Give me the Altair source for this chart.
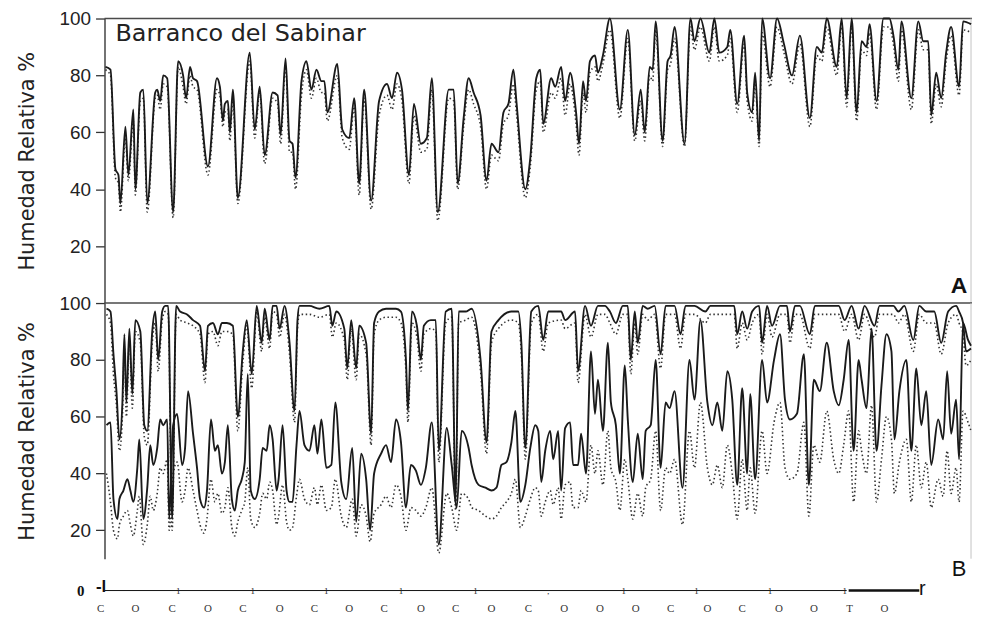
import altair as alt
import pandas as pd

# ---------------- datos (dia = posicion temporal, hr = humedad relativa %) -------------
DIA_A = [0.5, 3, 5.5, 7, 8, 10.5, 12, 14.5, 15.5, 18,
         19.5, 21.5, 25.5, 26.5, 28, 29.5, 31.5, 34.5, 37, 39.5,
         41, 43, 44.5, 46.5, 52, 56.5, 58, 59.5, 60.5, 62,
         63, 64.5, 67, 73, 75.5, 78, 80.5, 84.5, 87, 88.5,
         91, 93, 94.5, 96, 99, 101.5, 104, 106.5, 109, 110.5,
         112, 117, 119.5, 123, 125.5, 128, 130.5, 134, 138, 142,
         144.5, 147, 149.5, 153, 155.5, 159, 162, 164.5, 167.5, 173,
         175.5, 177.5, 180.5, 183, 185.5, 189, 192, 194.5, 198, 200.5,
         203, 205.5, 207, 211.5, 214, 217, 219, 220.5, 224.5, 226.5,
         229.5, 231.5, 234, 237, 238.5, 240.5, 242, 244, 246.5, 248,
         250.5, 254, 259, 263, 266.5, 269.5, 271.5, 274, 275.5, 277,
         280.5, 283, 284.5, 286.5, 291.5, 294.5, 296.5, 299.5, 304, 306.5,
         309, 313, 314.5, 318, 321.5, 323, 325.5, 327, 329, 330.5,
         334.5, 338, 341.5, 345.5, 349.5, 354.5, 358, 360.5, 363, 368,
         370.5, 373, 375.5, 378, 380.5, 383, 384.5, 388, 391.5, 394.5,
         396.5, 399, 400.5, 405.5, 409, 411.5, 414, 415.5, 418, 420.5,
         423, 425.5, 429.5, 431.5, 435.5]
HR_A_SOLIDA = [83, 82, 47, 45, 35, 62, 45, 68, 40, 74,
               75, 35, 74, 75, 71, 80, 79, 32, 85, 80,
               72, 83, 79, 78, 48, 79, 76, 64, 70, 71,
               60, 75, 37, 88, 61, 76, 52, 74, 73, 59,
               86, 57, 56, 44, 78, 85, 75, 82, 78, 78,
               67, 84, 61, 58, 72, 42, 75, 36, 71, 77,
               72, 81, 75, 45, 70, 56, 58, 79, 32, 75,
               75, 42, 65, 79, 74, 66, 43, 56, 53, 67,
               70, 82, 71, 40, 51, 79, 82, 63, 79, 76,
               83, 71, 81, 67, 56, 78, 71, 85, 87, 81,
               87, 100, 68, 96, 59, 75, 60, 83, 82, 99,
               57, 85, 87, 97, 56, 100, 92, 100, 88, 100,
               88, 90, 96, 70, 94, 74, 67, 81, 57, 100,
               79, 100, 91, 80, 94, 65, 90, 88, 100, 83,
               100, 72, 100, 67, 92, 90, 98, 71, 100, 100,
               94, 82, 99, 72, 99, 92, 92, 66, 81, 72,
               88, 97, 76, 99, 98]
HR_A_PUNTOS = [82, 80, 44, 42, 32, 58, 43, 64, 38, 71,
               72, 32, 72, 73, 68, 77, 76, 30, 83, 76,
               70, 80, 76, 75, 45, 75, 73, 62, 67, 68,
               57, 72, 35, 85, 58, 74, 49, 72, 70, 56,
               83, 53, 53, 40, 73, 82, 72, 79, 74, 74,
               64, 80, 58, 54, 69, 38, 72, 33, 66, 73,
               68, 77, 71, 42, 66, 53, 54, 75, 29, 72,
               71, 40, 62, 75, 70, 62, 40, 52, 50, 63,
               66, 77, 67, 37, 48, 75, 78, 60, 74, 72,
               79, 66, 77, 63, 52, 74, 67, 81, 83, 78,
               84, 96, 65, 93, 57, 71, 57, 80, 78, 96,
               55, 82, 84, 93, 55, 97, 89, 97, 85, 97,
               85, 87, 93, 67, 91, 71, 64, 78, 55, 95,
               76, 97, 88, 77, 91, 62, 87, 85, 97, 80,
               97, 69, 97, 64, 89, 87, 95, 68, 97, 97,
               91, 78, 96, 68, 96, 89, 89, 63, 77, 69,
               85, 94, 73, 96, 95]

DIA_B_SUP = [1, 3, 4.5, 6, 7.5, 9, 10, 11, 12.5, 14,
             15.5, 18, 20, 21.5, 24, 25.5, 27, 29, 30.5, 32,
             34, 36, 38, 41.5, 44.5, 48, 50.5, 52, 54.5, 57,
             59, 61.5, 64.5, 67, 69.5, 71.5, 74, 76.5, 79, 80.5,
             83, 84.5, 86.5, 88, 90.5, 93, 95.5, 97, 98, 103,
             108, 113, 114.5, 116.5, 120.5, 122, 124, 126.5, 128, 131.5,
             134, 135.5, 138, 141.5, 146.5, 149, 151.5, 152.5, 154.5, 157,
             159, 160.5, 164, 166.5, 168, 171.5, 174.5, 176.5, 178, 181.5,
             184.5, 189, 192, 194.5, 198, 204.5, 208, 209.5, 211.5, 214.5,
             218, 220.5, 223, 229.5, 231.5, 236.5, 238, 241.5, 244.5, 248,
             251.5, 254, 257, 260.5, 263, 264.5, 266.5, 268, 270.5, 273,
             276.5, 279.5, 282, 286.5, 289.5, 292, 296.5, 302, 304.5, 309.5,
             316.5, 318, 320.5, 323, 325.5, 329, 330.5, 333, 335.5, 339.5,
             343, 344.5, 347, 349.5, 354.5, 357, 363, 369, 372, 375.5,
             379, 382, 387, 389.5, 393, 396.5, 399, 402, 406.5, 409.5,
             413, 417, 420.5, 424, 428, 429.5, 431.5, 433, 435.5]
HR_B_SUP_SOLIDA = [98, 97, 82, 69, 52, 65, 89, 65, 91, 68,
                   94, 90, 57, 55, 90, 97, 80, 97, 99, 99,
                   24, 99, 97, 96, 94, 92, 76, 92, 93, 89,
                   93, 93, 92, 60, 83, 94, 75, 99, 86, 98,
                   87, 99, 99, 91, 99, 86, 62, 94, 99, 99,
                   98, 99, 92, 97, 91, 77, 94, 77, 92, 86,
                   54, 93, 97, 98, 98, 97, 80, 62, 97, 92,
                   80, 92, 94, 94, 48, 97, 98, 30, 97, 97,
                   98, 80, 51, 90, 94, 97, 97, 86, 49, 97,
                   99, 87, 97, 97, 94, 97, 76, 99, 92, 99,
                   99, 97, 93, 99, 99, 80, 97, 86, 99, 98,
                   99, 82, 99, 99, 89, 99, 99, 97, 99, 99,
                   99, 89, 97, 91, 97, 99, 86, 99, 92, 99,
                   99, 90, 99, 99, 89, 99, 99, 99, 94, 99,
                   91, 99, 92, 99, 99, 99, 97, 99, 87, 99,
                   97, 97, 86, 97, 99, 97, 93, 83, 84]
HR_B_SUP_PUNTOS = [96, 93, 75, 64, 48, 60, 84, 60, 87, 63,
                   90, 86, 53, 50, 86, 93, 76, 94, 97, 96,
                   20, 96, 94, 93, 92, 89, 72, 89, 90, 85,
                   90, 90, 89, 55, 79, 92, 70, 97, 83, 95,
                   84, 97, 96, 88, 96, 82, 58, 91, 96, 96,
                   95, 96, 88, 93, 87, 73, 91, 73, 89, 82,
                   50, 89, 94, 95, 95, 93, 76, 58, 93, 88,
                   76, 89, 91, 90, 44, 93, 95, 27, 93, 94,
                   95, 76, 47, 86, 91, 94, 93, 82, 45, 93,
                   96, 83, 93, 94, 91, 93, 72, 96, 88, 96,
                   96, 93, 89, 96, 96, 75, 93, 82, 96, 94,
                   96, 77, 96, 96, 84, 96, 96, 93, 96, 96,
                   96, 84, 93, 87, 93, 96, 82, 96, 88, 96,
                   96, 86, 96, 96, 84, 96, 96, 96, 90, 96,
                   87, 96, 88, 96, 96, 96, 93, 96, 83, 96,
                   93, 93, 82, 93, 96, 93, 89, 78, 80]

DIA_B_INF = [1, 3, 4.5, 6.5, 7.5, 9.5, 11.5, 13, 14.5, 16.5,
             17.5, 19.5, 21.5, 23, 24.5, 26.5, 28, 29.5, 31.5, 32.5,
             34.5, 36.5, 39, 40.5, 42, 44.5, 46.5, 48, 50, 51.5,
             53.5, 55.5, 57, 59, 60.5, 62, 64, 65.5, 67, 69,
             70.5, 72, 73.5, 75.5, 78, 79.5, 81.5, 83, 84.5, 86.5,
             87.5, 89.5, 91.5, 93, 94.5, 96.5, 98, 100.5, 103, 105.5,
             107, 109, 111.5, 114, 116, 119, 121.5, 124.5, 126.5, 129,
             131.5, 133.5, 135.5, 139, 141.5, 144, 146.5, 149, 151.5, 154,
             156.5, 159, 161.5, 164.5, 168, 172, 174.5, 177, 179.5, 183,
             184.5, 188, 191.5, 194.5, 197, 199.5, 202, 204.5, 206.5, 209,
             211.5, 214, 216.5, 218, 219.5, 221.5, 224, 225.5, 228, 229.5,
             231.5, 234, 235.5, 238, 239.5, 242, 244.5, 246.5, 248, 250.5,
             253, 254.5, 257, 259, 261.5, 263, 265.5, 268, 270.5, 272,
             274.5, 277, 279.5, 282, 284, 286.5, 290.5, 294, 296.5, 299.5,
             303, 305.5, 308, 310.5, 313, 315.5, 318, 320.5, 323, 324.5,
             327, 330.5, 333, 336.5, 339.5, 342, 344.5, 348, 351.5, 354,
             356.5, 359.5, 363, 366.5, 369, 371.5, 374, 376.5, 379, 380.5,
             383, 385.5, 388, 390.5, 393, 395.5, 397, 399.5, 403, 405.5,
             408, 410.5, 413, 415.5, 419, 421.5, 423.5, 425.5, 428, 429.5,
             431.5, 434, 435.5]
HR_B_INF_SOLIDA = [57, 58, 31, 24, 31, 34, 38, 34, 30, 42,
                   52, 24, 35, 50, 43, 49, 59, 57, 59, 24,
                   57, 61, 43, 49, 69, 54, 42, 31, 28, 34,
                   59, 48, 50, 40, 44, 57, 31, 27, 34, 38,
                   44, 75, 34, 31, 38, 49, 48, 57, 52, 34,
                   38, 57, 34, 30, 30, 50, 62, 50, 48, 57,
                   47, 59, 42, 43, 65, 37, 31, 49, 23, 47,
                   38, 20, 40, 47, 50, 44, 59, 51, 28, 43,
                   41, 36, 42, 58, 15, 56, 43, 28, 55, 49,
                   43, 36, 35, 34, 35, 43, 44, 51, 62, 30,
                   36, 49, 57, 55, 37, 48, 55, 45, 55, 34,
                   56, 58, 43, 43, 54, 40, 83, 61, 73, 55,
                   86, 65, 57, 40, 78, 59, 37, 54, 38, 55,
                   57, 80, 42, 65, 63, 69, 35, 80, 66, 94,
                   65, 57, 65, 55, 76, 66, 36, 70, 40, 68,
                   38, 80, 65, 80, 89, 66, 59, 61, 82, 36,
                   73, 69, 86, 69, 64, 73, 87, 48, 80, 73,
                   63, 91, 48, 71, 89, 83, 52, 69, 80, 48,
                   77, 57, 69, 43, 59, 52, 76, 54, 66, 45,
                   93, 87, 85]
HR_B_INF_PUNTOS = [40, 30, 20, 17, 22, 25, 27, 22, 18, 27,
                   32, 15, 22, 32, 27, 33, 42, 40, 45, 20,
                   40, 44, 30, 34, 42, 34, 27, 22, 19, 24,
                   38, 30, 33, 26, 28, 35, 21, 18, 23, 27,
                   30, 42, 24, 21, 26, 33, 31, 37, 34, 22,
                   25, 36, 23, 20, 21, 32, 38, 31, 29, 35,
                   29, 36, 27, 28, 38, 25, 21, 31, 18, 29,
                   25, 16, 26, 29, 32, 28, 36, 32, 20, 28,
                   27, 25, 28, 35, 12, 33, 28, 20, 33, 31,
                   28, 27, 25, 24, 25, 28, 30, 33, 38, 21,
                   25, 31, 35, 34, 25, 30, 34, 29, 35, 24,
                   36, 37, 28, 28, 34, 30, 50, 40, 48, 36,
                   55, 42, 37, 27, 45, 38, 24, 33, 25, 35,
                   38, 55, 27, 42, 40, 45, 22, 55, 42, 65,
                   42, 36, 43, 35, 50, 40, 24, 45, 27, 42,
                   26, 55, 40, 58, 65, 42, 38, 40, 58, 25,
                   50, 44, 62, 45, 40, 50, 62, 30, 55, 48,
                   40, 64, 30, 45, 60, 52, 33, 44, 52, 30,
                   50, 35, 44, 28, 38, 32, 48, 33, 42, 30,
                   62, 58, 55]

# eje temporal inferior (tal como aparece en la figura)
LETRAS = ["C", "O", "C", "O", "C", "O", "C", "O", "C", "O", "C", "O",
          "C", "O", "O", "O", "C", "O", "C", "O", "O", "T", "O"]
DIA_LETRAS = [-2, 15.5, 34, 52, 69.5, 88, 105.5, 123, 140.5, 159, 176.5, 194.5,
              213, 231, 249, 267, 284.5, 303, 320.5, 339, 356.5, 374.5, 392]
MARCAS = ["1", "1", "1", "1", "1", ";", "1", "1", "1", "1"]
DIA_MARCAS = [37, 74.5, 111.5, 149, 186.5, 223, 261, 297.5, 334.5, 372]

TITULO_Y = "Humedad Relativa %"
ESTACION = "Barranco del Sabinar"

# ---------------- construccion ----------------
W = 872
FONT = "Liberation Sans"
WIDE = "DejaVu Sans"
SERIF = "Liberation Serif"
INK = "#1a1a1a"

X = alt.X("dia:Q", scale=alt.Scale(domain=[0, 436], nice=False, zero=False), axis=None)
X2 = alt.X2("dia2:Q")


def eje_y():
    return alt.Axis(values=[20, 40, 60, 80, 100], title=TITULO_Y,
                    titleFont=WIDE, titleFontSize=21, titleFontWeight="normal",
                    titleColor="#222", titlePadding=22,
                    labelFont=FONT, labelFontSize=19, labelColor="#222",
                    labelPadding=5, tickSize=9, tickColor="#333", tickWidth=1.3,
                    domainColor="#444", domainWidth=1.5, grid=False)


YA = alt.Y("hr:Q", scale=alt.Scale(domain=[0, 100], nice=False, zero=False), axis=eje_y())
YB = alt.Y("hr:Q", scale=alt.Scale(domain=[10, 100], nice=False, zero=False), axis=eje_y())


def df(xs, ys):
    return pd.DataFrame({"dia": xs, "hr": ys})


def solida(xs, ys, Y):
    return alt.Chart(df(xs, ys)).mark_line(color=INK, strokeWidth=1.9,
                                           interpolate="monotone").encode(x=X, y=Y)


def punteada(xs, ys, Y):
    return alt.Chart(df(xs, ys)).mark_line(color="#333333", strokeWidth=1.6,
                                           strokeDash=[1.5, 2.6],
                                           interpolate="monotone").encode(x=X, y=Y)


def borde_sup(Y):
    return alt.Chart(pd.DataFrame({"hr": [100]})).mark_rule(
        color="#4a4a4a", strokeWidth=1.5).encode(y=Y)


def borde_der(Y, lo):
    return alt.Chart(pd.DataFrame({"dia": [435.5], "hr": [lo], "hr2": [100]})).mark_rule(
        color="#c4c4c4", strokeWidth=1).encode(x=X, y=Y, y2=alt.Y2("hr2:Q"))


def texto(rows, Y, **kw):
    return alt.Chart(pd.DataFrame(rows)).mark_text(**kw).encode(x=X, y=Y, text="t:N")


panelA = alt.layer(
    borde_sup(YA),
    borde_der(YA, 0),
    punteada(DIA_A, HR_A_PUNTOS, YA),
    solida(DIA_A, HR_A_SOLIDA, YA),
    texto({"dia": [5.5], "hr": [94.5], "t": [ESTACION]}, YA,
          align="left", baseline="middle", font=WIDE, fontSize=24, color="#222"),
    texto({"dia": [429.5], "hr": [6], "t": ["A"]}, YA,
          align="center", baseline="middle", font=FONT, fontSize=23,
          fontWeight="bold", color="#111"),
).properties(width=W, height=286)

linea = pd.DataFrame({"dia": [0, 374], "dia2": [373, 409.5], "hr": [-1.2, -1.2],
                      "g": [1.0, 2.6]})

panelB = alt.layer(
    borde_sup(YB),
    borde_der(YB, 10),
    punteada(DIA_B_INF, HR_B_INF_PUNTOS, YB),
    punteada(DIA_B_SUP, HR_B_SUP_PUNTOS, YB),
    solida(DIA_B_INF, HR_B_INF_SOLIDA, YB),
    solida(DIA_B_SUP, HR_B_SUP_SOLIDA, YB),
    texto({"dia": [429.5], "hr": [6.5], "t": ["B"]}, YB,
          align="center", baseline="middle", font=FONT, fontSize=22, color="#111"),
    # eje temporal dibujado bajo el panel B
    alt.Chart(linea).mark_rule(color="#111").encode(
        x=X, x2=X2, y=YB, strokeWidth=alt.StrokeWidth("g:Q", scale=None, legend=None)),
    texto({"dia": [-12], "hr": [-1.2], "t": ["0"]}, YB,
          align="center", baseline="middle", font=SERIF, fontSize=15,
          fontWeight="bold", color="#111"),
    texto({"dia": [0.9], "hr": [-1.6], "t": ["-l"]}, YB,
          align="right", baseline="alphabetic", font=FONT, fontSize=17,
          fontWeight="bold", color="#111"),
    texto({"dia": DIA_MARCAS, "hr": [-1.2] * len(DIA_MARCAS), "t": MARCAS}, YB,
          align="center", baseline="middle", font=SERIF, fontSize=9, color="#222"),
    texto({"dia": [409.3], "hr": [-2.6], "t": ["r"]}, YB,
          align="left", baseline="alphabetic", font=FONT, fontSize=20, color="#111"),
    texto({"dia": DIA_LETRAS, "hr": [-8.6] * len(DIA_LETRAS), "t": LETRAS}, YB,
          align="center", baseline="alphabetic", font=SERIF, fontSize=11, color="#333"),
).properties(width=W, height=257)

chart = alt.vconcat(panelA, panelB, spacing=0, bounds="flush").configure_view(
    stroke=None
).properties(
    padding={"left": 8, "top": 0, "right": 0, "bottom": 0},
    background="white",
)

chart.save("out.html", embed_options={"renderer": "svg", "actions": False})
